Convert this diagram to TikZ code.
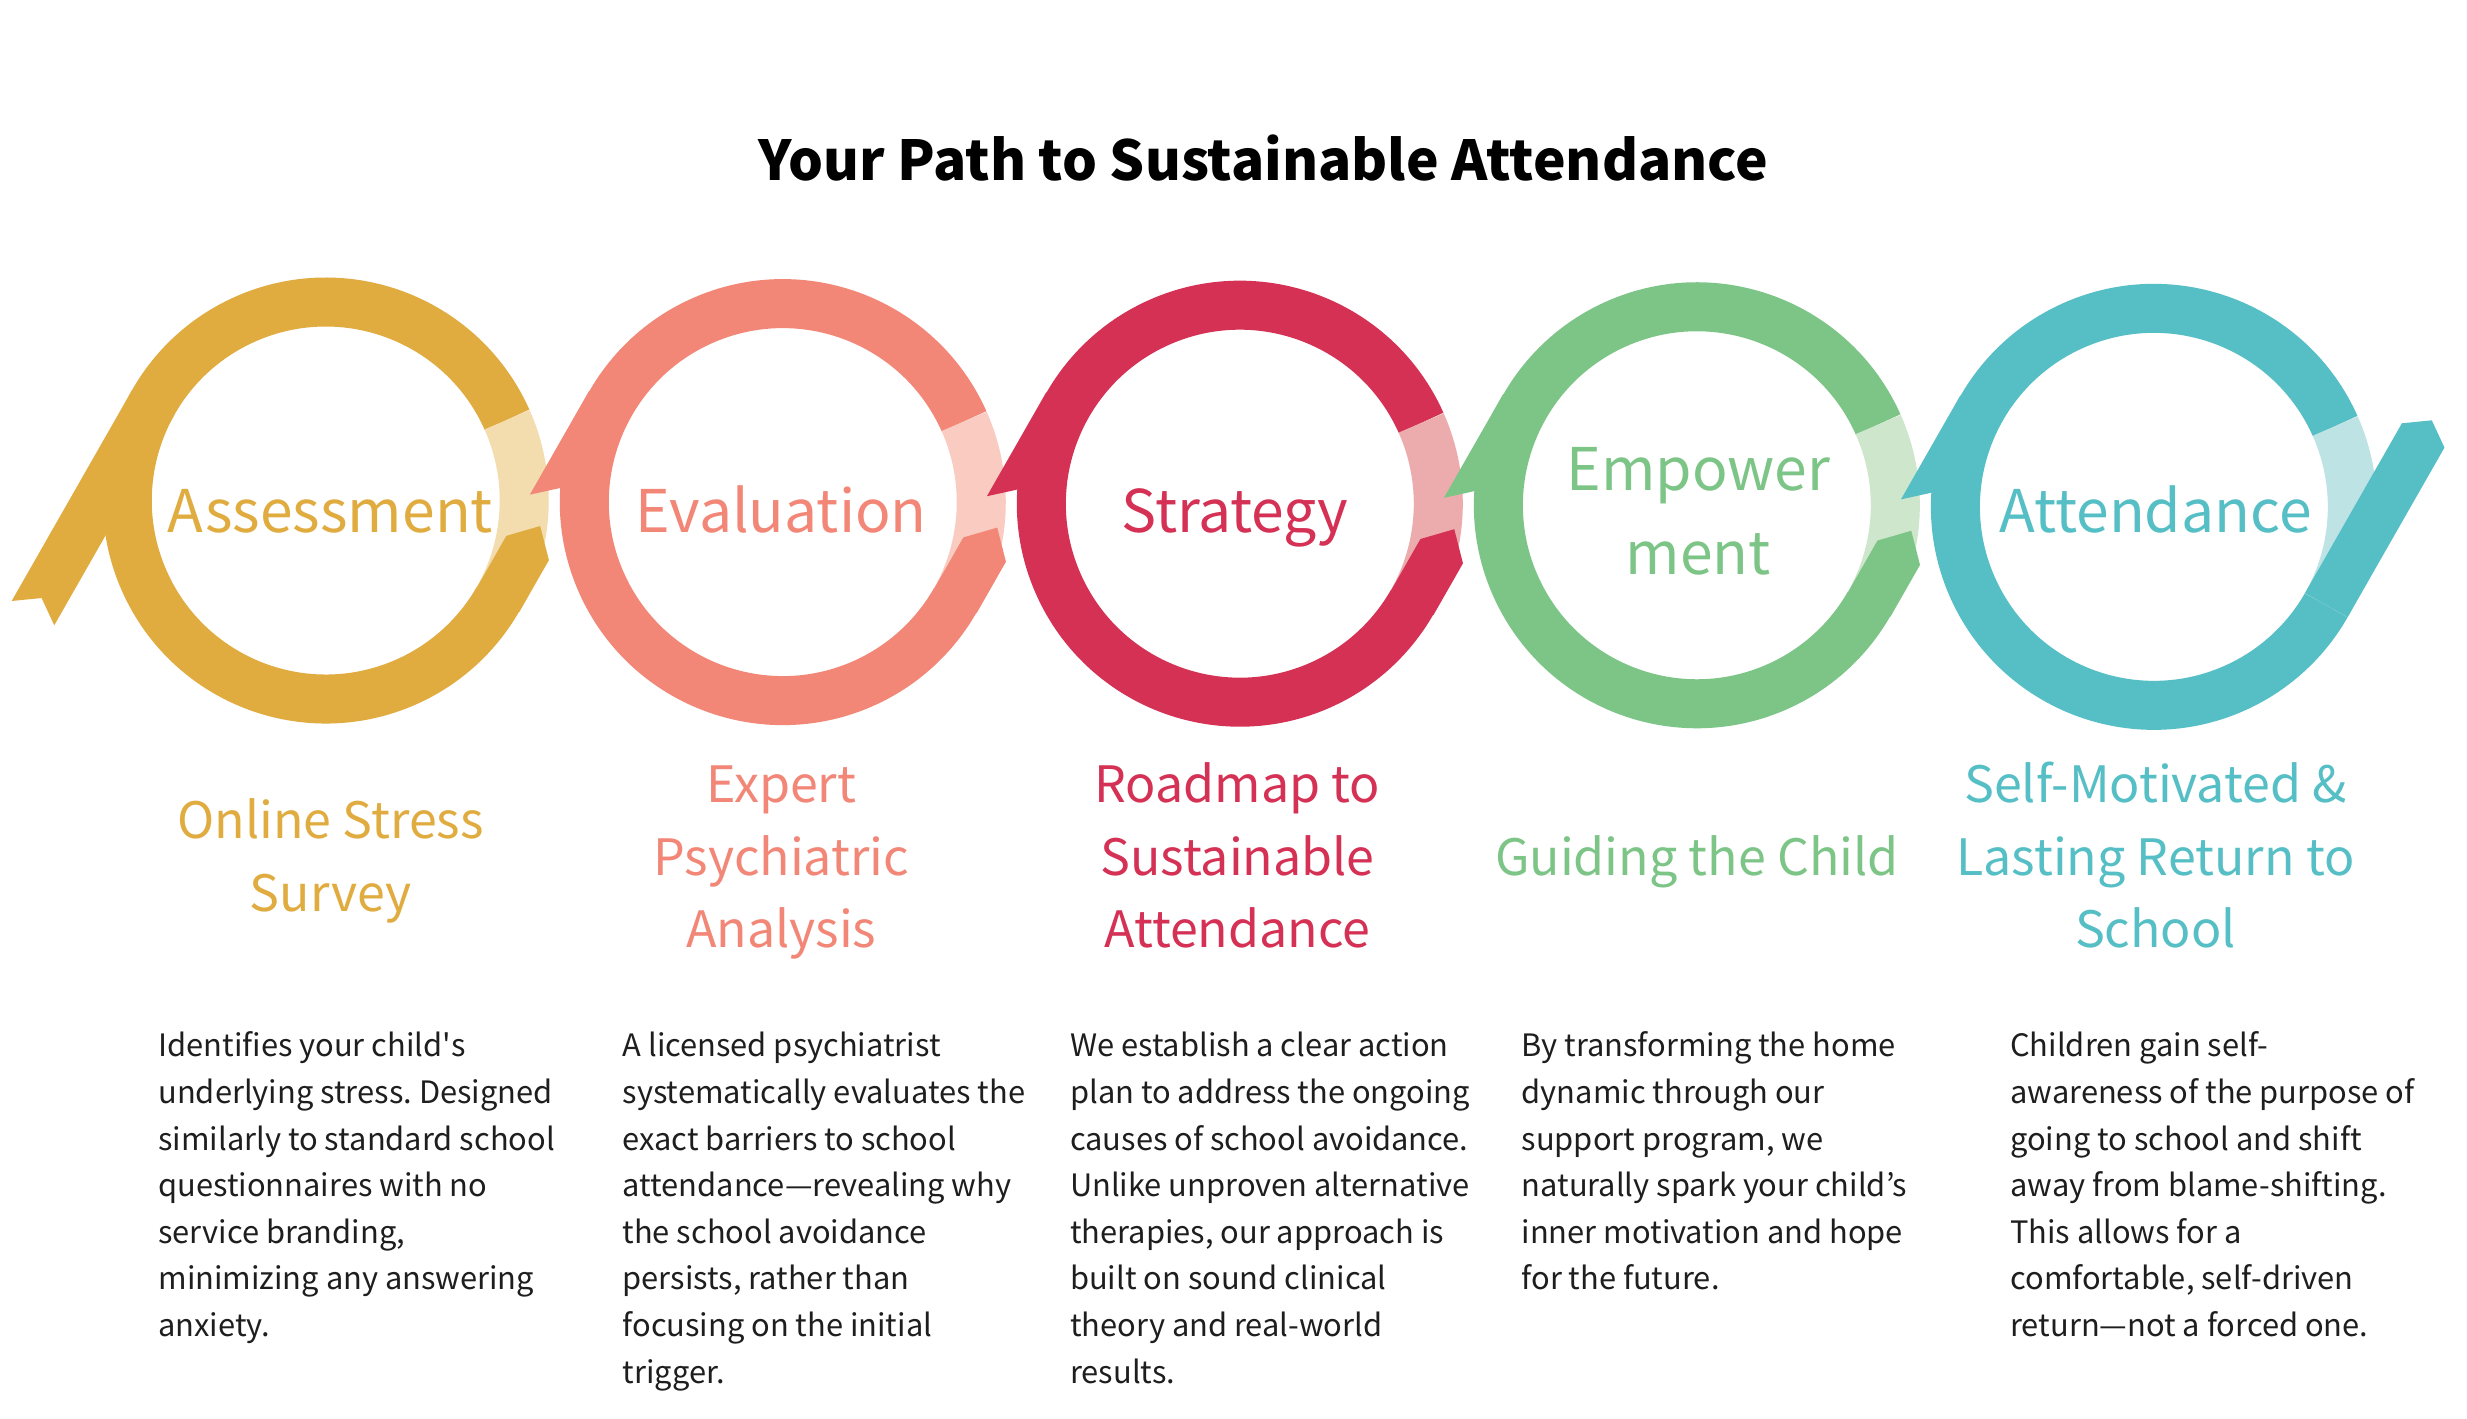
\documentclass[tikz,border=0pt]{standalone}
\usepackage{fontspec}
\setmainfont{Noto Sans CJK JP}[RawFeature=+pwid]
\definecolor{gold}{HTML}{E0AC40}
\definecolor{goldL}{HTML}{F3DCAE}
\definecolor{salmon}{HTML}{F28777}
\definecolor{salmonL}{HTML}{F9CBC1}
\definecolor{crim}{HTML}{D43155}
\definecolor{crimL}{HTML}{ECACAE}
\definecolor{grn}{HTML}{7DC587}
\definecolor{grnL}{HTML}{CDE6CC}
\definecolor{tealc}{HTML}{55BFC5}
\definecolor{tealL}{HTML}{BDE3E5}
\definecolor{bodyc}{HTML}{1E1E1E}
\frenchspacing
\tikzset{
  ringband/.style={line width=31pt},
  lbl/.style={anchor=base, inner sep=0pt, font=\fontsize{37.2}{45}\selectfont},
  subt/.style={anchor=base, inner sep=0pt, font=\fontsize{31.7}{38}\selectfont},
  bodytxt/.style={anchor=base west, inner sep=0pt, font=\fontsize{19.5}{23}\selectfont, text=bodyc},
}
% outgoing piece (pointed end) in the frame of a junction midpoint
\newcommand\bandout[4]{% #1 midpoint, #2 colour, #3 end s, #4 tip s
  \begin{scope}[shift={#1}, rotate=60.28]
    \fill[fill=#2] (-71.6,15.5) -- (#3,15.5) -- (#4,0) -- (#3,-15.5) -- (-71.6,-15.5) -- cycle;
  \end{scope}}
% incoming piece (notched end)
\newcommand\bandin[4]{% #1 midpoint, #2 colour, #3 barb s, #4 notch s
  \begin{scope}[shift={#1}, rotate=60.28]
    \fill[fill=#2] (71.6,15.5) -- (#3,15.5) -- (#4,0) -- (#3,-15.5) -- (71.6,-15.5) -- cycle;
  \end{scope}}
\newcommand\mylines[6]{% #1 name, #2 x, #3 first baseline, #4 pitch, #5 style, #6 lines
  \foreach \myl [count=\k] in {#6} {\node[#5] (#1-\k) at (#2,{-(#3)-(\k-1)*(#4)}) {\myl};}}
\begin{document}
\begin{tikzpicture}[x=1pt,y=1pt]
\useasboundingbox (0,0) rectangle (1560,-896.7);
\fill[white] (0,0) rectangle (1560,-896.7);

% rings
\foreach \i/\cx/\cy/\dk/\lt in {1/206/-316.5/gold/goldL, 2/495/-317.5/salmon/salmonL, 3/784/-318.5/crim/crimL, 4/1073/-319.5/grn/grnL, 5/1362/-320.5/tealc/tealL}{
  \coordinate (c\i) at (\cx,\cy);
  \draw[ringband, color=\dk] (c\i) ++(24:125.5) arc[start angle=24, end angle=330.3, radius=125.5];
  \draw[ringband, color=\lt] (c\i) ++(-29.7:125.5) arc[start angle=-29.7, end angle=24, radius=125.5];
}

% ribbon pieces
\bandin{(61.5,-316.5)}{gold}{-82}{-71}
\bandout{(350.5,-317)}{gold}{-34}{-18}
\bandin{(350.5,-317)}{salmon}{-4}{10}
\bandout{(639.5,-318)}{salmon}{-34}{-18}
\bandin{(639.5,-318)}{crim}{-4}{10}
\bandout{(928.5,-319)}{crim}{-34}{-18}
\bandin{(928.5,-319)}{grn}{-4}{10}
\bandout{(1217.5,-320)}{grn}{-34}{-18}
\bandin{(1217.5,-320)}{tealc}{-4}{10}
\bandout{(1506.5,-320.5)}{tealc}{52}{63}

% title
\node[anchor=base, inner sep=0pt, font=\bfseries\fontsize{34.8}{42}\selectfont] (title) at (799,-114) {Your Path to Sustainable Attendance};

% ring labels
\node[lbl, text=gold] (l1) at (209,-336.8) {Assessment};
\node[lbl, text=salmon] (l2) at (494,-336.8) {Evaluation};
\node[lbl, text=crim] (l3) at (781,-336.8) {Strategy};
\node[lbl, text=grn] (l4a) at (1074,-310.3) {Empower};
\node[lbl, text=grn] (l4b) at (1074,-363) {ment};
\node[lbl, text=tealc] (l5) at (1363,-336.8) {Attendance};

% subtitles
\mylines{s1}{209}{530.3}{46}{subt, text=gold}{Online Stress, Survey}
\mylines{s2}{494}{507.3}{46}{subt, text=salmon}{Expert, Psychiatric, Analysis}
\mylines{s3}{782.5}{507.3}{46}{subt, text=crim}{Roadmap to, Sustainable, Attendance}
\mylines{s4}{1073}{553.3}{46}{subt, text=grn}{Guiding the Child}
\mylines{s5}{1363}{507.3}{46}{subt, text=tealc}{Self-Motivated \&, Lasting Return to, School}

% body texts
\mylines{b1}{100}{668.2}{29.5}{bodytxt}{Identifies your child\textquotesingle s, underlying stress. Designed, similarly to standard school, questionnaires with no, {service branding,}, minimizing any answering, anxiety.}
\mylines{b2}{393.5}{668.2}{29.5}{bodytxt}{A licensed psychiatrist, systematically evaluates the, exact barriers to school, attendance—revealing why, the school avoidance, {persists, rather than}, focusing on the initial, trigger.}
\mylines{b3}{676.5}{668.2}{29.5}{bodytxt}{We establish a clear action, plan to address the ongoing, causes of school avoidance., Unlike unproven alternative, {therapies, our approach is}, built on sound clinical, theory and real-world, results.}
\mylines{b4}{962}{668.2}{29.5}{bodytxt}{By transforming the home, dynamic through our, {support program, we}, naturally spark your child’s, inner motivation and hope, for the future.}
\mylines{b5}{1271}{668.2}{29.5}{bodytxt}{Children gain self-, awareness of the purpose of, going to school and shift, away from blame-shifting., This allows for a, {comfortable, self-driven}, return—not a forced one.}
\end{tikzpicture}
\end{document}
